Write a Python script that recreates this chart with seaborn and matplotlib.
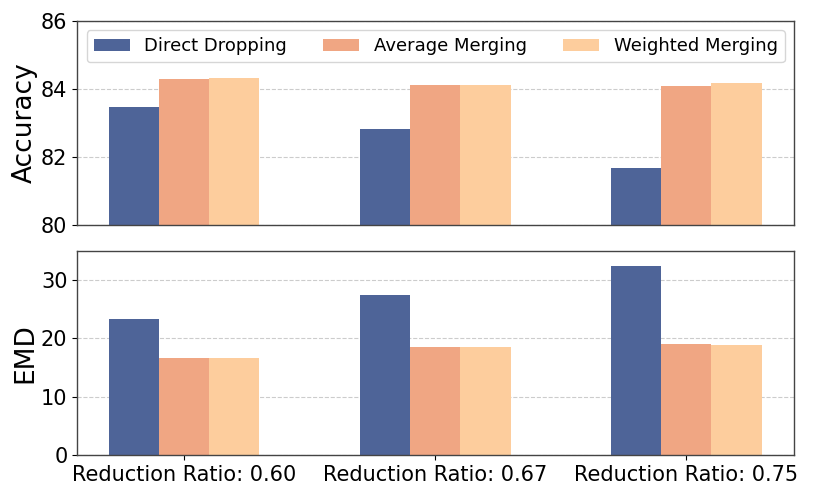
import pandas as pd
import seaborn as sns
import matplotlib
matplotlib.use('Agg')
import matplotlib.pyplot as plt

ratios = ['Reduction Ratio: 0.60', 'Reduction Ratio: 0.67', 'Reduction Ratio: 0.75']
methods = ['Direct Dropping', 'Average Merging', 'Weighted Merging']
accuracy_direct = [83.47, 82.84, 81.67]
accuracy_average = [84.29, 84.13, 84.08]
accuracy_weighted = [84.33, 84.13, 84.18]
emd_direct = [23.4, 27.45, 32.35]
emd_average = [16.65, 18.55, 19.05]
emd_weighted = [16.65, 18.55, 18.88]

colors = ['#4E6498', '#F0A683', '#FDCD9D']


def to_frame(vals):
    rows = []
    for m, series in zip(methods, vals):
        for r, v in zip(ratios, series):
            rows.append({'ratio': r, 'method': m, 'value': v})
    return pd.DataFrame(rows)


acc_df = to_frame([accuracy_direct, accuracy_average, accuracy_weighted])
emd_df = to_frame([emd_direct, emd_average, emd_weighted])

fig, (ax1, ax2) = plt.subplots(2, 1, figsize=(8.3, 4.98), dpi=100, sharex=True)
fig.subplots_adjust(left=0.093, right=0.957, top=0.958, bottom=0.086, hspace=0.125)

sns.barplot(data=acc_df, x='ratio', y='value', hue='method', palette=colors,
            width=0.6, saturation=1, ax=ax1, linewidth=0)
sns.barplot(data=emd_df, x='ratio', y='value', hue='method', palette=colors,
            width=0.6, saturation=1, ax=ax2, linewidth=0, legend=False)

ax1.set_ylim(80, 86)
ax1.set_yticks([80, 82, 84, 86])
ax2.set_ylim(0, 35)
ax2.set_yticks([0, 10, 20, 30])
ax1.set_xlim(-0.426, 2.43)

ax1.set_ylabel('Accuracy', fontsize=19, labelpad=2)
ax2.set_ylabel('EMD', fontsize=19, labelpad=2)
ax1.set_xlabel('')
ax2.set_xlabel('')

for ax in (ax1, ax2):
    ax.grid(axis='y', linestyle='--', color='#cccccc', linewidth=0.8)
    ax.set_axisbelow(True)
    ax.tick_params(axis='y', labelsize=15)
    for s in ax.spines.values():
        s.set_color('#444444')
        s.set_linewidth(1.0)
ax1.tick_params(axis='x', length=0, labelbottom=False)
ax2.tick_params(axis='x', labelsize=15)

ax1.legend(loc='upper center', ncol=3, fontsize=13, frameon=True,
           bbox_to_anchor=(0.5, 1.0), columnspacing=2.0, handlelength=2.0)

fig.savefig('out.png', dpi=100)
